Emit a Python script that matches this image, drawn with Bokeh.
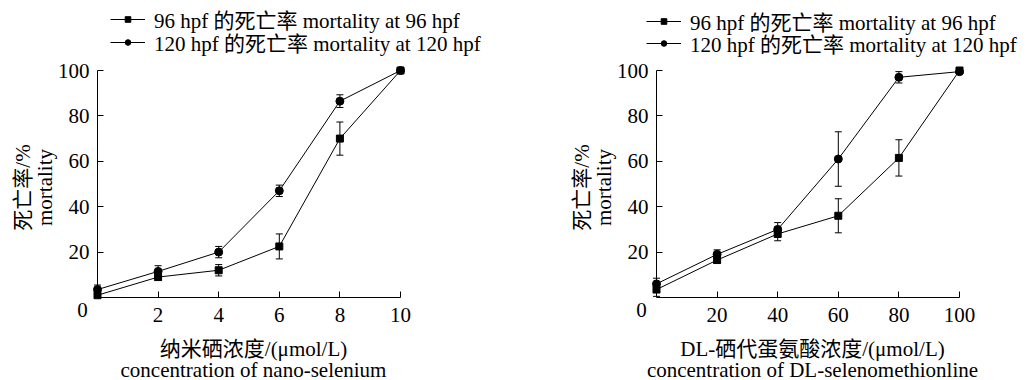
import math
from bokeh.plotting import figure
from bokeh.models import ColumnDataSource, Whisker, TeeHead, Legend, LegendItem, Label, FixedTicker, Range1d
from bokeh.layouts import row
from bokeh.embed import file_html
from bokeh.resources import INLINE

# ---- data ----
conc_nano = [0, 2, 4, 6, 8, 10]
mort96_nano = [1.0, 9.0, 12.0, 22.5, 70.0, 100.0]
err96_nano = [1.0, 1.5, 2.5, 5.5, 7.3, 0.0]
mort120_nano = [3.5, 11.5, 20.0, 47.0, 86.5, 100.0]
err120_nano = [2.0, 2.5, 2.5, 2.5, 2.8, 0.0]

conc_dl = [0, 20, 40, 60, 80, 100]
mort96_dl = [3.5, 16.5, 28.0, 36.0, 61.5, 100.0]
err96_dl = [3.0, 1.5, 3.0, 7.5, 8.0, 0.0]
mort120_dl = [6.0, 19.0, 30.0, 61.0, 97.0, 99.5]
err120_dl = [2.5, 2.0, 3.0, 12.0, 2.5, 0.5]

xticks_nano = [2, 4, 6, 8, 10]
xticks_dl = [20, 40, 60, 80, 100]
yticks = [20, 40, 60, 80, 100]

legend96 = "96 hpf 的死亡率 mortality at 96 hpf"
legend120 = "120 hpf 的死亡率 mortality at 120 hpf"
ylabel_cn = "死亡率/%"
ylabel_en = "mortality"
xlabel_nano = ["纳米硒浓度/(μmol/L)", "concentration of nano-selenium"]
xlabel_dl = ["DL-硒代蛋氨酸浓度/(μmol/L)", "concentration of DL-selenomethionline"]

FONT = "Liberation Serif, Noto Sans CJK SC"
FS = "21px"

H = 380            # figure height
AX_W = 303         # pixel length of the x axis
AX_H = 227         # pixel length of the y axis
Y0_PX = 297        # y=0 position from figure top
LEG_GH = 14        # legend glyph box height (sets legend marker size)
LEG_ROW_H = 26     # rendered legend row height


def txt(p, text, dx, dy, angle=0.0):
    p.add_layout(Label(x=0, y=0, x_offset=dx, y_offset=dy, text=text, angle=angle,
                       text_align="center", text_baseline="middle", text_font=FONT,
                       text_font_size=FS, text_color="black"))


def panel(conc, m96, e96, m120, e120, xticks, xlabel, width, x0_px, xmax, leg_x, leg_rows):
    xs = AX_W / xmax       # px per x unit
    ys = AX_H / 100.0      # px per y unit
    x_start = -x0_px / xs
    x_end = x_start + width / xs
    y_end = Y0_PX / ys
    y_start = y_end - H / ys
    p = figure(width=width, height=H, output_backend="svg", toolbar_location=None,
               x_range=Range1d(x_start, x_end), y_range=Range1d(y_start, y_end),
               min_border=0)
    p.frame_width = width
    p.frame_height = H
    p.outline_line_color = None
    p.background_fill_color = None
    p.border_fill_color = None
    p.grid.visible = False

    s96 = ColumnDataSource(dict(x=conc, y=m96, up=[a + b for a, b in zip(m96, e96)],
                                lo=[a - b for a, b in zip(m96, e96)]))
    s120 = ColumnDataSource(dict(x=conc, y=m120, up=[a + b for a, b in zip(m120, e120)],
                                 lo=[a - b for a, b in zip(m120, e120)]))
    for s in (s96, s120):
        w = Whisker(source=s, base="x", upper="up", lower="lo", line_color="black", line_width=1,
                    upper_head=TeeHead(size=7, line_color="black", line_width=1),
                    lower_head=TeeHead(size=7, line_color="black", line_width=1))
        p.add_layout(w)

    l96 = p.line("x", "y", source=s96, line_color="black", line_width=1)
    k96 = p.scatter("x", "y", source=s96, marker="square", size=7, color="black")
    l120 = p.line("x", "y", source=s120, line_color="black", line_width=1)
    k120 = p.scatter("x", "y", source=s120, marker="circle", size=8, color="black")

    for lab, rends, cy in ((legend96, [l96, k96], leg_rows[0]), (legend120, [l120, k120], leg_rows[1])):
        leg = Legend(items=[LegendItem(label=lab, renderers=rends)],
                     location=(leg_x, H - cy - LEG_ROW_H / 2), padding=0, margin=0, spacing=0,
                     glyph_width=35, glyph_height=LEG_GH, label_height=LEG_GH, label_standoff=9,
                     border_line_color=None, background_fill_alpha=0,
                     label_text_font=FONT, label_text_font_size=FS, label_text_color="black")
        p.add_layout(leg, "center")

    for ax in (p.xaxis[0], p.yaxis[0]):
        ax.fixed_location = 0
        ax.axis_line_color = "black"
        ax.major_tick_line_color = "black"
        ax.minor_tick_line_color = None
        ax.major_tick_in = 6
        ax.major_tick_out = 0
        ax.major_label_text_font = FONT
        ax.major_label_text_font_size = FS
        ax.major_label_text_color = "black"
    p.xaxis.bounds = (0, xmax)
    p.yaxis.bounds = (0, 100)
    p.xaxis.ticker = FixedTicker(ticks=xticks)
    p.yaxis.ticker = FixedTicker(ticks=yticks)
    p.xaxis.major_label_standoff = 10
    p.yaxis.major_label_standoff = 8

    # axis titles (two lines each)
    txt(p, xlabel[0], 156, -51)
    txt(p, xlabel[1], 156, -72)
    txt(p, ylabel_cn, -74.5, 110, math.pi / 2)
    txt(p, ylabel_en, -52.5, 110, math.pi / 2)
    # shared origin label
    txt(p, "0", -15, -12)
    return p


p1 = panel(conc_nano, mort96_nano, err96_nano, mort120_nano, err120_nano,
           xticks_nano, xlabel_nano, 520, 97, 10, 110, (21, 43.5))
p2 = panel(conc_dl, mort96_dl, err96_dl, mort120_dl, err120_dl,
           xticks_dl, xlabel_dl, 507, 136, 100, 126, (22.5, 45))

layout = row(p1, p2)
open("out.html", "w").write(file_html(layout, INLINE))
